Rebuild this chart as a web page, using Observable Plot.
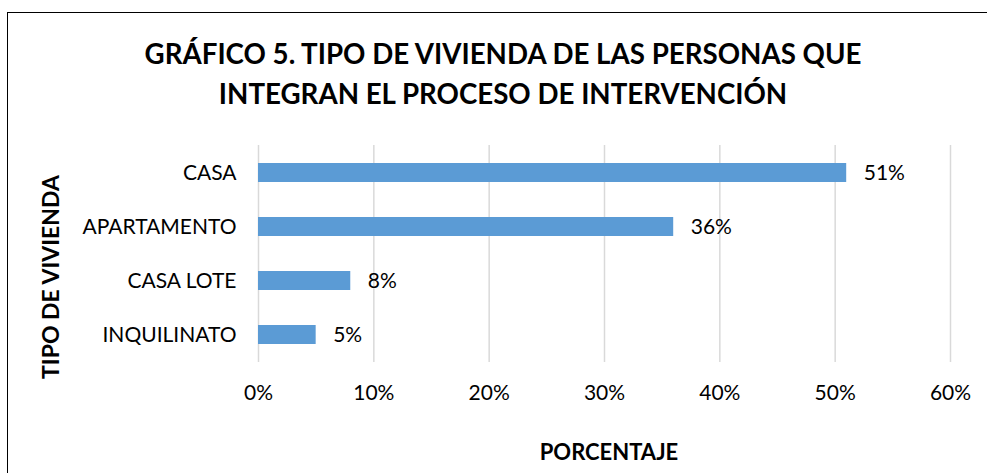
<!DOCTYPE html>
<html><head><meta charset="utf-8">
<script src="https://cdn.jsdelivr.net/npm/d3@7"></script>
<script src="https://cdn.jsdelivr.net/npm/@observablehq/plot@0.6"></script>
<style>
body{margin:0;background:#fff;}
#wrap{position:relative;width:987px;height:473px;overflow:hidden;font-family:Lato,"Noto Sans",sans-serif;}
#frame{position:absolute;left:7px;top:12px;width:2000px;height:2000px;border-left:1.5px solid #000;border-top:1.5px solid #000;}
#title{position:absolute;left:0;width:1006px;top:34px;text-align:center;font-weight:bold;font-size:27.7px;line-height:40px;color:#000;}
#ylab{position:absolute;left:50px;top:277px;transform:translate(-50%,-50%) rotate(-90deg);font-weight:bold;font-size:23px;white-space:nowrap;}
#xlab{position:absolute;left:609px;top:451px;transform:translate(-50%,-50%);font-weight:bold;font-size:22px;white-space:nowrap;}
</style></head>
<body><div id="wrap"><div id="frame"></div><div id="chart"></div>
<div id="title">GRÁFICO 5. TIPO DE VIVIENDA DE LAS PERSONAS QUE<br>INTEGRAN EL PROCESO DE INTERVENCIÓN</div>
<div id="ylab">TIPO DE VIVIENDA</div><div id="xlab">PORCENTAJE</div></div>
<script>
const categorias = ["CASA","APARTAMENTO","CASA LOTE","INQUILINATO"];
const valores = [51,36,8,5];
const ticksX = [0,10,20,30,40,50,60];
const data = categorias.map((c,i)=>({c, v:valores[i]}));
const chart = Plot.plot({
  width:987, height:473,
  marginLeft:258, marginRight:37, marginTop:145, marginBottom:111,
  x:{domain:[0,60]},
  y:{domain:categorias, paddingInner:0.65, paddingOuter:0.325},
  style:{fontFamily:"Lato, 'Noto Sans', sans-serif", fontSize:"21px", color:"#000", background:"transparent"},
  marks:[
    Plot.ruleX(ticksX,{stroke:"#d9d9d9", strokeWidth:1.5}),
    Plot.barX(data,{x:"v", y:"c", fill:"#5b9bd5"}),
    Plot.text(data,{x:"v", y:"c", text:d=>d.v+"%", textAnchor:"start", dx:17, fontSize:21, fill:"#000"}),
    Plot.axisX({ticks:ticksX, tickFormat:d=>d+"%", tickSize:0, tickPadding:23, label:null, fontSize:21}),
    Plot.axisY({tickSize:0, tickPadding:22, label:null, fontSize:21})
  ]
});
chart.style.position="absolute"; chart.style.left="0"; chart.style.top="0";
document.getElementById("chart").appendChild(chart);
</script></body></html>
